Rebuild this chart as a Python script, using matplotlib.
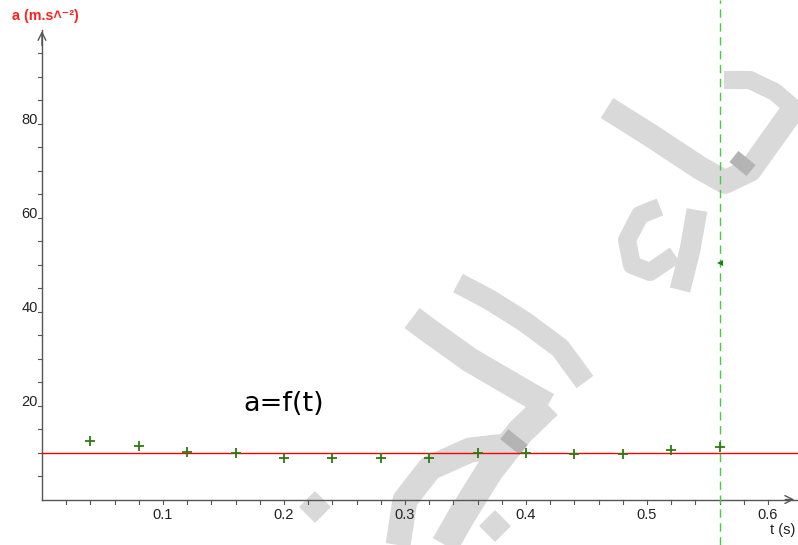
import numpy as np
import matplotlib
matplotlib.use("Agg")
import matplotlib.pyplot as plt
from matplotlib.patches import Polygon

plt.rcParams['font.family'] = ['Liberation Sans', 'DejaVu Sans']

# measured values a = f(t)
t_vals = [0.04, 0.08, 0.12, 0.16, 0.20, 0.24, 0.28, 0.32, 0.36, 0.40, 0.44, 0.48, 0.52, 0.56]
a_vals = [12.5, 11.3, 10.2, 9.8, 8.9, 8.9, 8.9, 8.9, 9.9, 9.8, 9.6, 9.7, 10.5, 11.2]
a_mean = 10.0          # red horizontal line
t_cursor = 0.56        # green dashed cursor
a_cursor = 50.4
x_major = [0.1, 0.2, 0.3, 0.4, 0.5, 0.6]
y_major = [20, 40, 60, 80]

fig = plt.figure(figsize=(7.98, 5.45), dpi=100)

# background watermark (pixel coords)
bg = fig.add_axes([0, 0, 1, 1], zorder=0)
bg.set_xlim(0, 798)
bg.set_ylim(545, 0)
bg.axis('off')
wm = '#d9d9d9'
dark = '#b4b4b4'
strokes = [
    ([607, 650, 700, 725, 750, 800], [108, 135, 168, 182, 170, 100], 17),
    ([724, 750, 775, 798], [80, 80, 92, 112], 13),
    ([660, 640, 627, 632, 650, 675], [207, 215, 240, 265, 272, 255], 13),
    ([697, 690, 680], [210, 250, 290], 15),
    ([458, 490, 525, 560, 585], [283, 300, 322, 348, 382], 15),
    ([412, 428, 470, 530, 548], [318, 330, 360, 395, 405], 18),
    ([548, 520, 490, 462, 445], [405, 432, 470, 515, 545], 20),
    ([505, 470, 430, 405, 398], [446, 450, 468, 500, 545], 18),
]
for xs, ys, w in strokes:
    bg.plot(xs, ys, color=wm, lw=w, solid_capstyle='butt', solid_joinstyle='round')
for cx, cy, r in [(315, 507, 15), (495, 526, 15)]:
    bg.add_patch(Polygon([(cx, cy - r), (cx + r, cy), (cx, cy + r), (cx - r, cy)], color=wm))
bg.plot([738, 747], [169, 158], color=dark, lw=16, solid_capstyle='butt')
bg.plot([518, 510], [437, 447], color=dark, lw=18, solid_capstyle='butt')

# main axes, data coords mapped over the whole figure
ax = fig.add_axes([0, 0, 1, 1], zorder=1)
ax.patch.set_alpha(0)
ax.set_xlim(-0.0347, 0.6248)
ax.set_ylim(-9.68, 106.3)
ax.axis('off')

axc = '#555555'
ax.plot([0, 0.625], [0, 0], color=axc, lw=1)
ax.plot([0, 0], [0, 100], color=axc, lw=1)
ax.annotate('', xy=(0, 100.3), xytext=(0, 96), arrowprops=dict(arrowstyle='->', color=axc, lw=1, mutation_scale=14))
ax.annotate('', xy=(0.624, 0), xytext=(0.612, 0), arrowprops=dict(arrowstyle='->', color=axc, lw=1, mutation_scale=14))

# ticks
for t in np.arange(0.02, 0.62, 0.02):
    ax.plot([t, t], [0, -0.9], color=axc, lw=0.8)
for a in range(5, 100, 5):
    ax.plot([0, -0.0035], [a, a], color=axc, lw=0.8)
for t in x_major:
    ax.text(t, -3.4, '%.1f' % t, ha='center', va='center', fontsize=10.5, color='#222222')
for a in y_major:
    ax.text(-0.0035, a, str(a), ha='right', va='baseline', fontsize=10.5, color='#222222')

ax.text(0.6124, -6.5, 't (s)', ha='center', va='center', fontsize=10.5, color='#222222')
ax.text(-0.0248, 102.9, 'a (m.s˄⁻²)', ha='left', va='center', fontsize=10.3,
        color='#ff2020', fontweight='bold')
ax.text(0.1665, 20.4, 'a=f(t)', ha='left', va='center', fontsize=19.5, color='black',
        family=['DejaVu Sans'])

# data
ax.plot([0, 0.625], [a_mean, a_mean], color='#ff0000', lw=1)
ax.axvline(t_cursor, color='#44cc44', lw=1, ls=(0, (6, 4)))
ax.plot(t_vals, a_vals, '+', color='#2f7a10', ms=7, mew=1.3)
ax.plot([t_cursor], [a_cursor], marker='<', color='#118811', ms=4, mew=0)

fig.savefig('out.png', dpi=100)
